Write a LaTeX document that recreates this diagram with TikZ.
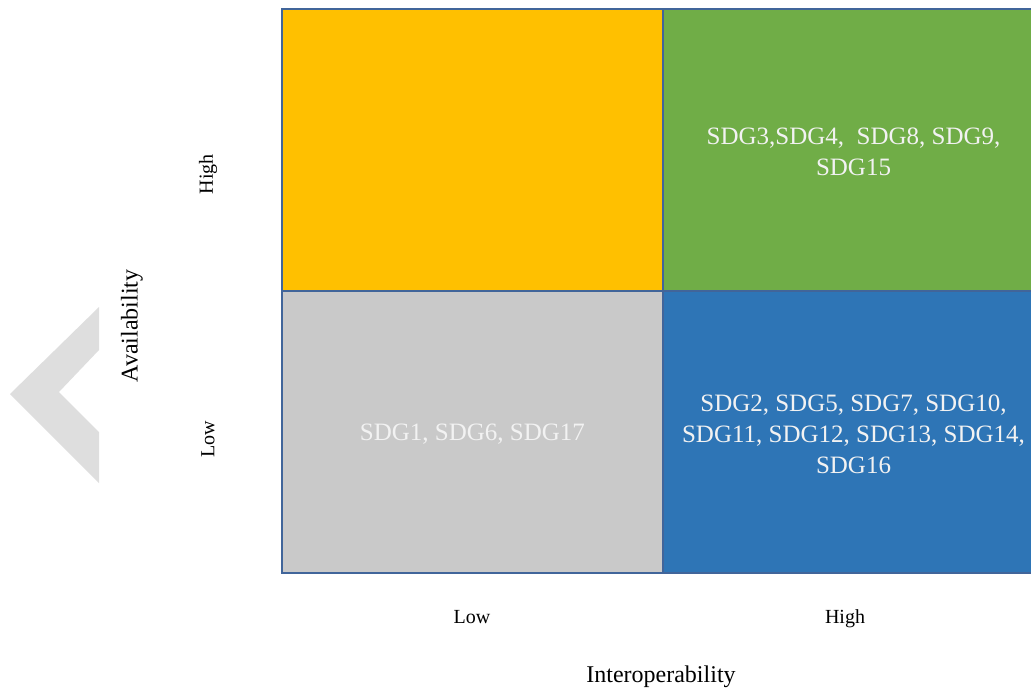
\documentclass[tikz,border=0pt]{standalone}
\usepackage{fontspec}
\setmainfont{Liberation Serif}
\definecolor{cyellow}{HTML}{FFC000}
\definecolor{cgreen}{HTML}{70AD47}
\definecolor{cgray}{HTML}{C9C9C9}
\definecolor{cblue}{HTML}{2E75B6}
\definecolor{cline}{HTML}{41659A}
\definecolor{chev}{HTML}{DEDEDE}
\definecolor{ctext}{HTML}{F2F2F2}
\begin{document}
\begin{tikzpicture}[x=1pt,y=-1pt,
 cell/.style={draw=cline,line width=1.3pt,minimum width=381pt,minimum height=282pt,inner sep=0pt,outer sep=0pt,anchor=north west},
 sdg/.style={text=ctext,font=\fontsize{25}{31}\selectfont,align=center},
 axislabel/.style={font=\fontsize{24}{28}\selectfont},
 ticklabel/.style={font=\fontsize{20}{24}\selectfont}]
\useasboundingbox (0,0) rectangle (1031,689);
\clip (0,0) rectangle (1031,689);
\fill[chev] (99,307) -- (10,394) -- (99,483) -- (99,432) -- (59,392) -- (99,350) -- cycle;
\node[cell,fill=cyellow] (q1) at (282,9) {};
\node[cell,fill=cgreen] (q2) at (663,9) {};
\node[cell,fill=cgray] (q3) at (282,291) {};
\node[cell,fill=cblue] (q4) at (663,291) {};
\node[sdg] (t2) at ([yshift=-2pt]q2.center) {SDG3,SDG4,\ \ SDG8, SDG9,\\SDG15};
\node[sdg] (t3) at ([yshift=-2pt]q3.center) {SDG1, SDG6, SDG17};
\node[sdg] (t4) at ([yshift=-2pt]q4.center) {SDG2, SDG5, SDG7, SDG10,\\SDG11, SDG12, SDG13, SDG14,\\SDG16};
\node[ticklabel,rotate=90] (hy) at (208,174) {High};
\node[ticklabel,rotate=90] (ly) at (208,439) {Low};
\node[axislabel,rotate=90] (av) at (132,326) {Availability};
\node[ticklabel] (lx) at (472,617) {Low};
\node[ticklabel] (hx) at (845,619) {High};
\node[axislabel] (ix) at (661,677) {Interoperability};
\end{tikzpicture}
\end{document}
